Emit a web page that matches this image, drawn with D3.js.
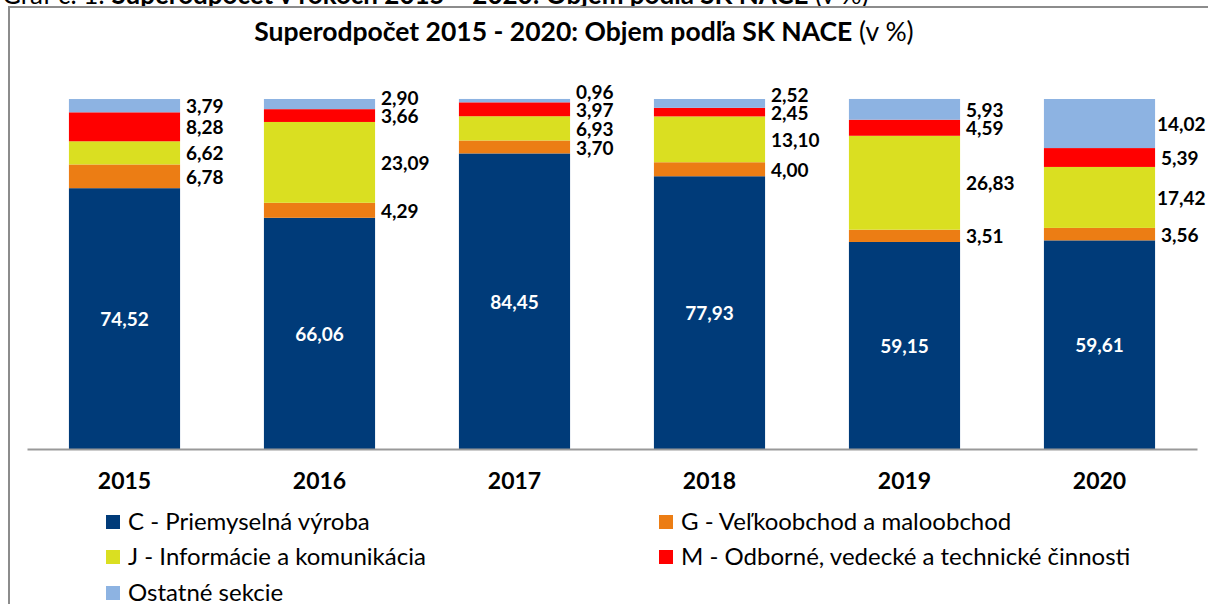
<!DOCTYPE html>
<html>
<head>
<meta charset="utf-8">
<script src="https://cdn.jsdelivr.net/npm/d3@7"></script>
<style>
    body { margin: 0; background: #fff; }
    text { font-family: Lato, "Open Sans", sans-serif; }
</style>
</head>
<body>
<svg id="chart"></svg>
<script>
var years = ['2015', '2016', '2017', '2018', '2019', '2020'];
var sectorC = [74.52, 66.06, 84.45, 77.93, 59.15, 59.61];
var sectorG = [6.78, 4.29, 3.70, 4.00, 3.51, 3.56];
var sectorJ = [6.62, 23.09, 6.93, 13.10, 26.83, 17.42];
var sectorM = [8.28, 3.66, 3.97, 2.45, 4.59, 5.39];
var sectorOther = [3.79, 2.90, 0.96, 2.52, 5.93, 14.02];
var seriesNames = [
    'C - Priemyselná výroba',
    'G - Veľkoobchod a maloobchod',
    'J - Informácie a komunikácia',
    'M - Odborné, vedecké a technické činnosti',
    'Ostatné sekcie'
];
var colors = ['#003b79', '#ec7d14', '#dadf21', '#ff0000', '#8db3e2'];

function fmt(v) {
    return v.toFixed(2).replace('.', ',');
}

function draw() {
    var width = 1208, height = 604;
    var svg = d3.select('#chart').attr('width', width).attr('height', height);

    var series = [sectorC, sectorG, sectorJ, sectorM, sectorOther];
    var rows = years.map(function(y, i) {
        var r = { year: y };
        series.forEach(function(s, k) { r[k] = s[i]; });
        return r;
    });
    var stack = d3.stack().keys(d3.range(series.length))(rows);

    var x = d3.scaleBand().domain(years).range([27, 1197]).paddingInner(0.43).paddingOuter(0.215);
    var y = d3.scaleLinear().domain([0, 100]).range([449, 99]);

    // caption above the chart box (cut off at the top)
    var cap = svg.append('text').attr('x', 2).attr('y', 4).attr('font-size', 26).attr('fill', '#000');
    cap.append('tspan').text('Graf č. 1: ');
    cap.append('tspan').attr('font-weight', 'bold').text('Superodpočet v rokoch 2015 – 2020: Objem podľa SK NACE');
    cap.append('tspan').text(' (v %)');

    svg.append('rect')
        .attr('x', 9).attr('y', 7)
        .attr('width', 1210).attr('height', 620)
        .attr('fill', '#fff')
        .attr('stroke', '#8c8c8c')
        .attr('stroke-width', 2);

    var title = svg.append('text')
        .attr('x', 584).attr('y', 41)
        .attr('text-anchor', 'middle')
        .attr('font-size', 26.5);
    title.append('tspan').attr('font-weight', 'bold').text('Superodpočet 2015 - 2020: Objem podľa SK NACE');
    title.append('tspan').text(' (v %)');

    var groups = svg.append('g').selectAll('g')
        .data(stack)
        .enter().append('g')
        .attr('fill', function(d, i) { return colors[i]; });

    groups.selectAll('rect')
        .data(function(d) { return d; })
        .enter().append('rect')
        .attr('x', function(d) { return x(d.data.year); })
        .attr('y', function(d) { return y(d[1]); })
        .attr('width', x.bandwidth())
        .attr('height', function(d) { return y(d[0]) - y(d[1]); });

    // axis line
    var axis = svg.append('g')
        .attr('transform', 'translate(0,' + y(0) + ')')
        .call(d3.axisBottom(x).tickSize(0).tickPadding(24));
    axis.select('.domain').attr('stroke', '#999').attr('stroke-width', 2);
    axis.selectAll('text')
        .attr('font-family', 'Lato, sans-serif')
        .attr('font-size', 23)
        .attr('font-weight', 'bold')
        .attr('fill', '#000');

    // C values inside the bars
    svg.append('g').selectAll('text')
        .data(stack[0])
        .enter().append('text')
        .attr('x', function(d) { return x(d.data.year) + x.bandwidth() / 2; })
        .attr('y', function(d) { return (y(d[0]) + y(d[1])) / 2; })
        .attr('dy', '0.4em')
        .attr('text-anchor', 'middle')
        .attr('font-size', 19)
        .attr('font-weight', 'bold')
        .attr('fill', '#fff')
        .text(function(d) { return fmt(d.data[0]); });

    // other values right of the bars, pushed apart where they would collide
    var gap = 18;
    years.forEach(function(yr, i) {
        var prev = Infinity;
        for (var k = 1; k < stack.length; k++) {
            var d = stack[k][i];
            var mid = Math.min((y(d[0]) + y(d[1])) / 2, prev - gap);
            prev = mid;
            var t = svg.append('text')
                .attr('x', x(yr) + x.bandwidth() + 6)
                .attr('y', mid)
                .attr('dy', '0.4em')
                .attr('font-size', 19)
                .attr('font-weight', 'bold')
                .attr('fill', '#000')
                .text(fmt(d.data[k]));
            // keep the label inside the picture
            var len = t.node().getComputedTextLength();
            var lx = Math.min(x(yr) + x.bandwidth() + 6, width - len - 3);
            t.attr('x', Math.max(lx, x(yr) + x.bandwidth() + 2));
        }
    });

    // legend
    var legendPos = [[106, 522], [659, 522], [106, 557], [659, 557], [106, 593]];
    var legend = svg.append('g').selectAll('g')
        .data(seriesNames)
        .enter().append('g')
        .attr('transform', function(d, i) { return 'translate(' + legendPos[i][0] + ',' + legendPos[i][1] + ')'; });
    legend.append('rect')
        .attr('x', 0).attr('y', -7)
        .attr('width', 14).attr('height', 14)
        .attr('fill', function(d, i) { return colors[i]; });
    legend.append('text')
        .attr('x', 22).attr('dy', '0.35em')
        .attr('font-size', 24)
        .attr('fill', '#000')
        .text(function(d) { return d; });
}
window.onload = draw;
</script>
</body>
</html>
